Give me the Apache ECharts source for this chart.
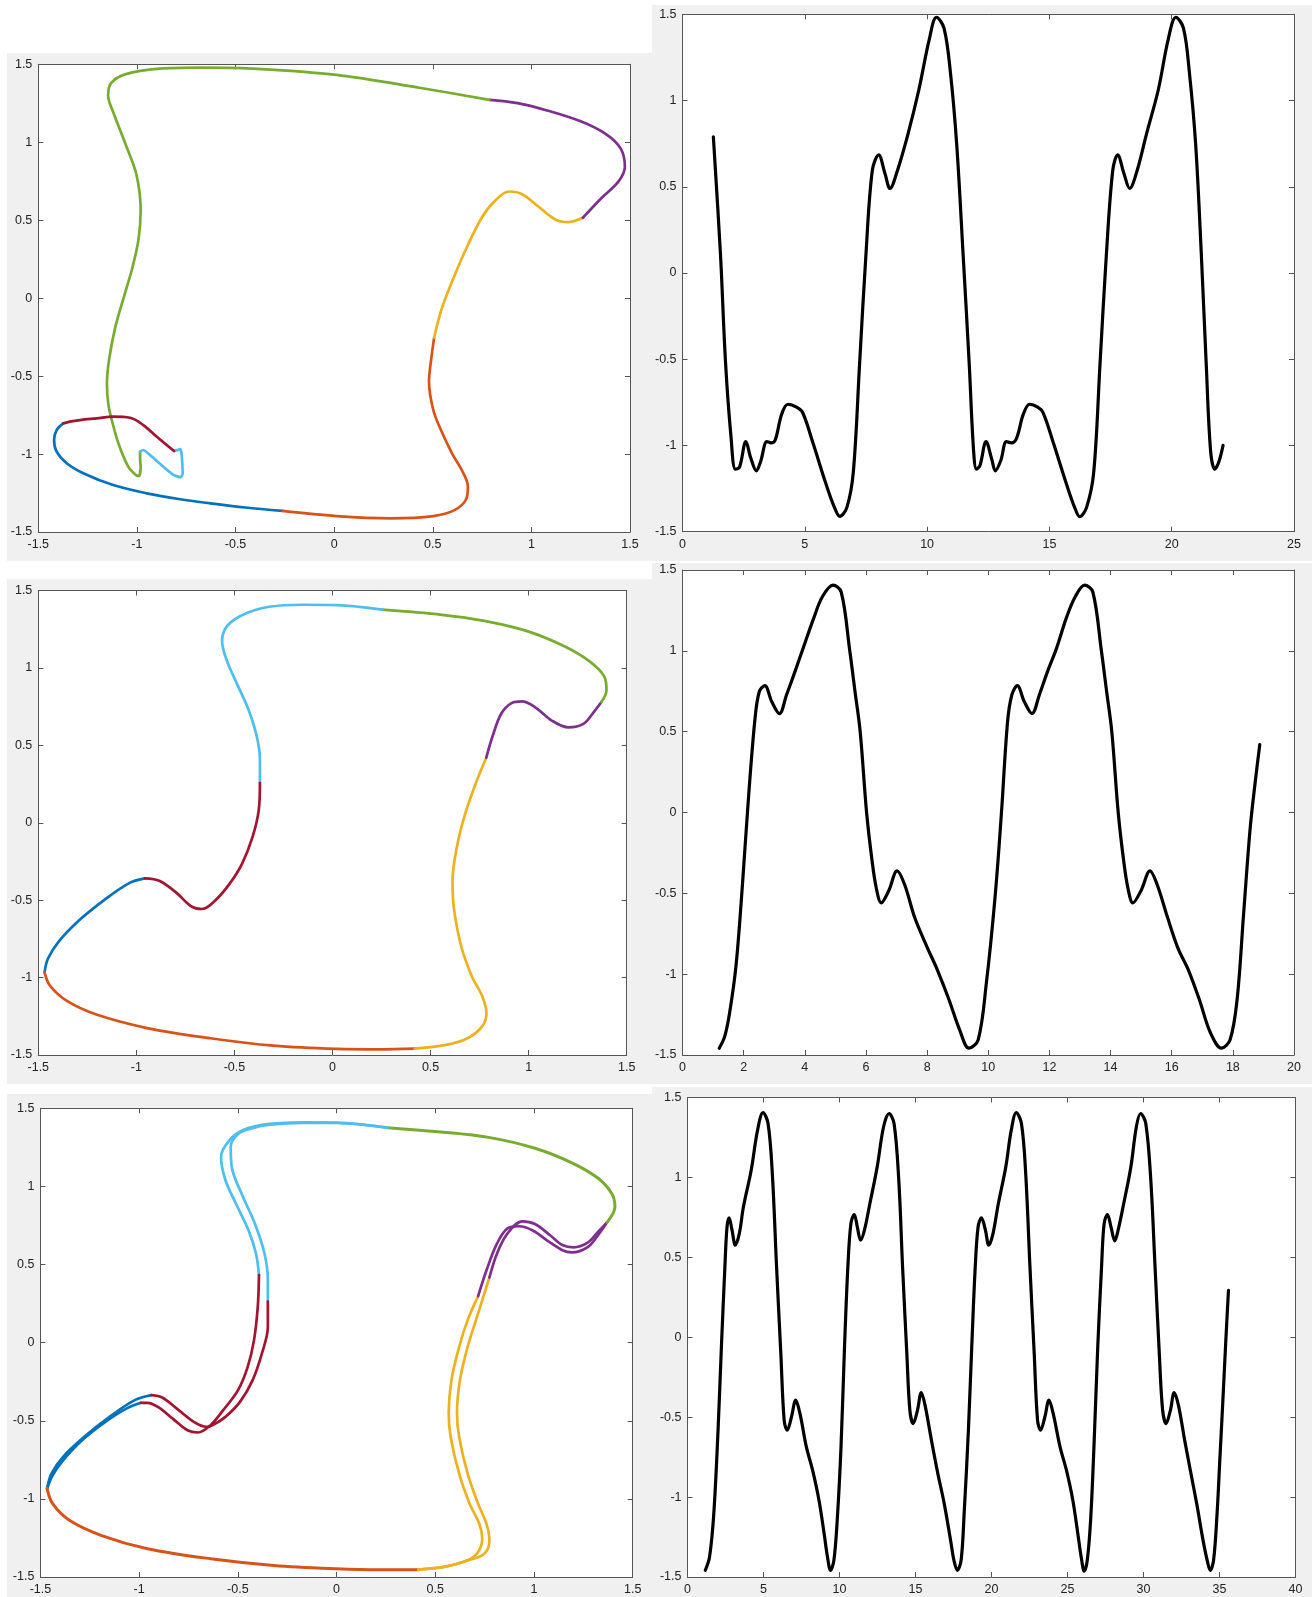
<!DOCTYPE html>
<html><head><meta charset="utf-8">
<script src="https://cdn.jsdelivr.net/npm/echarts@6/dist/echarts.min.js"></script>
<style>
html,body{margin:0;padding:0;background:#fff;}
#wrap{position:relative;width:1314px;height:1597px;overflow:hidden;}
.bg{position:absolute;background:#f0f0f0;}
#chartL{position:absolute;left:0;top:0;width:652px;height:1597px;}
#chartR{position:absolute;left:652px;top:0;width:662px;height:1597px;}
</style></head><body>
<div id="wrap">
<div class="bg" style="left:7px;top:53px;width:645px;height:508px"></div>
<div class="bg" style="left:652px;top:5px;width:660px;height:556px"></div>
<div class="bg" style="left:7px;top:579px;width:645px;height:505px"></div>
<div class="bg" style="left:652px;top:563px;width:660px;height:521px"></div>
<div class="bg" style="left:7px;top:1094px;width:645px;height:503px"></div>
<div class="bg" style="left:652px;top:1087px;width:660px;height:510px"></div>
<div id="chartL"></div>
<div id="chartR"></div>
</div>
<script>
// ---------- Panel 1 (phase plot, top-left) ----------
const p1Blue = [[-1.373,-0.803],[-1.407,-0.846],[-1.420,-0.910],[-1.407,-0.985],[-1.356,-1.059],[-1.272,-1.123],[-1.120,-1.199],[-0.950,-1.252],[-0.781,-1.290],[-0.629,-1.316],[-0.45,-1.343],[-0.262,-1.365]];
const p1Orange = [[-0.262,-1.365],[0.012,-1.398],[0.289,-1.412],[0.503,-1.398],[0.610,-1.360],[0.669,-1.290],[0.678,-1.209],[0.652,-1.115],[0.599,-0.999],[0.546,-0.859],[0.503,-0.719],[0.481,-0.533],[0.492,-0.393],[0.507,-0.253]];
const p1Yellow = [[0.507,-0.253],[0.546,-0.066],[0.610,0.144],[0.674,0.330],[0.749,0.517],[0.813,0.621],[0.887,0.684],[0.951,0.668],[1.037,0.586],[1.122,0.504],[1.186,0.488],[1.261,0.516]];
const p1Purple = [[1.261,0.516],[1.357,0.644],[1.442,0.749],[1.474,0.843],[1.453,0.959],[1.378,1.052],[1.250,1.134],[1.079,1.204],[0.930,1.251],[0.787,1.272]];
const p1Green = [[0.787,1.272],[0.439,1.348],[0.012,1.432],[-0.415,1.472],[-0.672,1.479],[-0.885,1.472],[-1.056,1.437],[-1.131,1.379],[-1.146,1.297],[-1.120,1.192],[-1.056,0.982],[-1.003,0.796],[-0.981,0.563],[-0.992,0.376],[-1.024,0.190],[-1.067,0.004],[-1.109,-0.183],[-1.141,-0.393],[-1.152,-0.55],[-1.145,-0.68],[-1.128,-0.78],[-1.094,-0.931],[-1.044,-1.081],[-1.005,-1.135],[-0.990,-1.141],[-0.981,-1.081],[-0.984,-1.028],[-0.984,-0.985]];
const p1LightBlue = [[-0.984,-0.985],[-0.968,-0.974],[-0.934,-1.006],[-0.866,-1.081],[-0.815,-1.134],[-0.778,-1.149],[-0.768,-1.124],[-0.771,-1.038],[-0.775,-0.985],[-0.781,-0.968],[-0.795,-0.975],[-0.812,-0.980]];
const p1DarkRed = [[-0.812,-0.980],[-0.849,-0.942],[-0.899,-0.889],[-0.968,-0.814],[-1.035,-0.767],[-1.120,-0.760],[-1.204,-0.771],[-1.289,-0.782],[-1.340,-0.792],[-1.373,-0.803]];

// ---------- Panel 2 (time series, top-right) ----------
const t2 = [1.26,1.55,1.76,1.98,2.16,2.33,2.59,2.79,3.02,3.19,3.45,3.62,3.79,4.05,4.31,4.66,4.91,5.34,5.86,6.21,6.43,6.72,6.98,7.24,7.50,7.76,8.02,8.28,8.48,8.79,9.22,9.66,10.09,10.38,10.69,10.95,11.21,11.47,11.72,11.90,12.02,12.16,12.41,12.64,12.79,13.02,13.24,13.45,13.66,13.93,14.19,14.52,14.74,15.17,15.69,16.03,16.24,16.52,16.81,17.07,17.33,17.59,17.79,18.05,18.28,18.59,18.97,19.45,19.86,20.17,20.48,20.72,20.98,21.21,21.41,21.59,21.76,21.93,22.10];
const y2 = [0.790,0.110,-0.524,-0.947,-1.137,-1.126,-0.978,-1.073,-1.147,-1.094,-0.978,-0.985,-0.968,-0.820,-0.761,-0.778,-0.809,-0.989,-1.221,-1.359,-1.411,-1.359,-1.158,-0.524,0.110,0.596,0.685,0.575,0.490,0.596,0.807,1.061,1.356,1.483,1.420,1.166,0.744,0.110,-0.524,-1.031,-1.137,-1.116,-0.978,-1.078,-1.147,-1.084,-0.978,-0.985,-0.957,-0.820,-0.761,-0.778,-0.809,-0.989,-1.221,-1.359,-1.413,-1.359,-1.158,-0.524,0.110,0.596,0.685,0.575,0.490,0.596,0.807,1.061,1.356,1.483,1.420,1.166,0.744,0.110,-0.524,-1.031,-1.137,-1.094,-0.999];

// ---------- Panel 3 (phase plot, middle-left) ----------
const p3Blue = [[-0.956,-0.359],[-1.032,-0.387],[-1.161,-0.496],[-1.289,-0.627],[-1.397,-0.769],[-1.451,-0.878],[-1.468,-0.966]];
const p3Orange = [[-1.468,-0.966],[-1.440,-1.053],[-1.354,-1.151],[-1.204,-1.239],[-0.946,-1.326],[-0.623,-1.392],[-0.301,-1.440],[0.021,-1.461],[0.236,-1.464],[0.419,-1.459]];
const p3Yellow = [[0.419,-1.459],[0.580,-1.435],[0.688,-1.392],[0.763,-1.315],[0.785,-1.228],[0.763,-1.119],[0.709,-0.988],[0.655,-0.791],[0.619,-0.551],[0.612,-0.376],[0.634,-0.158],[0.677,0.060],[0.731,0.256],[0.784,0.420]];
const p3Purple = [[0.784,0.420],[0.817,0.562],[0.860,0.704],[0.913,0.773],[0.967,0.784],[1.032,0.747],[1.118,0.660],[1.204,0.616],[1.279,0.638],[1.332,0.715],[1.371,0.780]];
const p3Green = [[1.371,0.780],[1.397,0.856],[1.386,0.944],[1.311,1.042],[1.182,1.140],[0.989,1.239],[0.774,1.304],[0.559,1.343],[0.254,1.376]];
const p3LightBlue = [[0.254,1.376],[0.021,1.406],[-0.150,1.408],[-0.322,1.395],[-0.451,1.347],[-0.537,1.271],[-0.563,1.173],[-0.537,1.042],[-0.484,0.889],[-0.430,0.736],[-0.387,0.562],[-0.370,0.409],[-0.370,0.256]];
const p3DarkRed = [[-0.370,0.256],[-0.376,0.082],[-0.408,-0.093],[-0.462,-0.267],[-0.527,-0.398],[-0.602,-0.507],[-0.666,-0.557],[-0.720,-0.540],[-0.795,-0.453],[-0.881,-0.376],[-0.956,-0.359]];

// ---------- Panel 4 (time series, middle-right) ----------
const t4 = [1.20,1.38,1.54,1.75,1.96,2.16,2.37,2.51,2.69,2.92,3.17,3.40,3.68,3.95,4.30,4.57,4.92,5.19,5.47,5.64,5.81,6.02,6.20,6.34,6.50,6.74,7.02,7.26,7.60,8.02,8.32,8.71,9.06,9.37,9.67,9.94,10.22,10.43,10.63,10.77,10.95,11.18,11.43,11.67,11.94,12.22,12.56,12.84,13.15,13.42,13.70,13.87,14.04,14.25,14.43,14.57,14.73,15.00,15.29,15.52,15.87,16.21,16.53,16.90,17.27,17.63,17.91,18.14,18.35,18.56,18.72,18.88];
const y4 = [-1.458,-1.385,-1.239,-0.946,-0.444,0.099,0.580,0.747,0.785,0.685,0.612,0.727,0.873,1.019,1.207,1.333,1.406,1.364,1.000,0.750,0.500,0.000,-0.300,-0.470,-0.559,-0.486,-0.361,-0.444,-0.653,-0.842,-0.967,-1.155,-1.343,-1.458,-1.406,-1.051,-0.528,-0.005,0.559,0.727,0.785,0.685,0.612,0.727,0.873,1.009,1.207,1.333,1.406,1.364,1.000,0.750,0.500,0.000,-0.300,-0.470,-0.559,-0.482,-0.361,-0.444,-0.653,-0.842,-0.967,-1.155,-1.364,-1.458,-1.406,-1.155,-0.632,-0.110,0.170,0.420];

// ---------- Panel 5 (phase plot, two loops, bottom-left) ----------
const p5Blue1 = [[-0.990,-0.385],[-1.065,-0.422],[-1.171,-0.507],[-1.289,-0.625],[-1.385,-0.753],[-1.438,-0.849],[-1.466,-0.934]];
const p5Blue2 = [[-0.937,-0.336],[-1.022,-0.368],[-1.150,-0.475],[-1.278,-0.603],[-1.385,-0.731],[-1.444,-0.838],[-1.466,-0.934]];
const p5Orange = [[-1.466,-0.934],[-1.438,-1.031],[-1.353,-1.137],[-1.193,-1.233],[-0.958,-1.319],[-0.638,-1.383],[-0.318,-1.426],[0.002,-1.447],[0.215,-1.453],[0.414,-1.453]];
const p5Yellow1 = [[0.414,-1.453],[0.557,-1.432],[0.664,-1.393],[0.717,-1.340],[0.738,-1.255],[0.723,-1.159],[0.674,-1.031],[0.621,-0.839],[0.578,-0.604],[0.568,-0.454],[0.582,-0.240],[0.621,-0.027],[0.664,0.144],[0.717,0.298]];
const p5Yellow2 = [[0.414,-1.453],[0.557,-1.432],[0.664,-1.393],[0.749,-1.351],[0.774,-1.265],[0.759,-1.159],[0.717,-1.031],[0.664,-0.839],[0.621,-0.604],[0.610,-0.454],[0.625,-0.240],[0.664,-0.027],[0.717,0.187],[0.774,0.417]];
const p5Purple1 = [[0.717,0.298],[0.760,0.465],[0.813,0.635],[0.866,0.731],[0.925,0.745],[0.994,0.718],[1.069,0.652],[1.144,0.592],[1.192,0.578],[1.272,0.612],[1.325,0.689],[1.370,0.770]];
const p5Purple2 = [[0.774,0.417],[0.813,0.571],[0.866,0.699],[0.941,0.776],[1.005,0.759],[1.080,0.689],[1.144,0.625],[1.200,0.610],[1.272,0.640],[1.325,0.710],[1.370,0.770]];
const p5Green = [[1.370,0.770],[1.410,0.870],[1.393,0.956],[1.325,1.052],[1.197,1.148],[1.005,1.244],[0.770,1.314],[0.514,1.350],[0.258,1.376]];
const p5LightBlue1 = [[0.258,1.376],[0.002,1.408],[-0.169,1.410],[-0.339,1.400],[-0.467,1.365],[-0.542,1.297],[-0.585,1.190],[-0.563,1.041],[-0.510,0.891],[-0.446,0.720],[-0.408,0.571],[-0.393,0.432]];
const p5LightBlue2 = [[0.258,1.376],[0.002,1.406],[-0.169,1.407],[-0.339,1.395],[-0.440,1.368],[-0.499,1.335],[-0.536,1.255],[-0.531,1.126],[-0.478,0.945],[-0.414,0.763],[-0.365,0.571],[-0.348,0.400],[-0.348,0.262]];
const p5DarkRed1 = [[-0.393,0.432],[-0.399,0.230],[-0.418,0.016],[-0.450,-0.155],[-0.499,-0.304],[-0.574,-0.432],[-0.638,-0.528],[-0.702,-0.575],[-0.755,-0.561],[-0.830,-0.486],[-0.905,-0.411],[-0.958,-0.385],[-0.990,-0.385]];
const p5DarkRed2 = [[-0.348,0.262],[-0.348,0.101],[-0.378,-0.069],[-0.425,-0.240],[-0.489,-0.379],[-0.563,-0.475],[-0.627,-0.528],[-0.659,-0.539],[-0.723,-0.507],[-0.809,-0.422],[-0.883,-0.351],[-0.937,-0.336]];

// ---------- Panel 6 (time series, bottom-right) ----------
const t6 = [1.17,1.45,1.73,2.01,2.23,2.46,2.60,2.74,2.93,3.15,3.41,3.68,4.19,4.61,4.97,5.30,5.58,5.86,6.14,6.36,6.56,6.84,7.12,7.40,7.82,8.23,8.65,8.99,9.21,9.41,9.63,9.85,10.10,10.33,10.55,10.75,10.97,11.17,11.39,11.64,12.00,12.48,12.90,13.26,13.59,13.90,14.15,14.43,14.63,14.85,15.13,15.38,15.63,16.05,16.47,16.89,17.31,17.53,17.75,18.00,18.20,18.48,18.70,18.93,19.12,19.34,19.60,19.82,20.10,20.43,20.94,21.30,21.63,21.97,22.25,22.53,22.81,23.03,23.23,23.51,23.78,24.06,24.51,24.93,25.35,25.68,25.90,26.10,26.30,26.52,26.74,26.99,27.24,27.41,27.63,27.86,28.11,28.33,28.70,29.17,29.53,29.81,30.15,30.48,30.76,31.04,31.26,31.49,31.77,32.02,32.30,32.71,33.08,33.50,33.92,34.19,34.39,34.61,34.84,35.03,35.22,35.40,35.59];
const y6 = [-1.458,-1.375,-1.104,-0.582,-0.061,0.440,0.691,0.747,0.670,0.576,0.649,0.816,1.045,1.296,1.406,1.337,1.024,0.440,-0.102,-0.520,-0.582,-0.499,-0.394,-0.478,-0.686,-0.832,-1.020,-1.229,-1.375,-1.458,-1.396,-1.145,-0.686,-0.061,0.440,0.711,0.768,0.691,0.607,0.670,0.837,1.066,1.317,1.400,1.337,0.983,0.440,-0.102,-0.457,-0.540,-0.457,-0.346,-0.426,-0.645,-0.853,-1.041,-1.271,-1.396,-1.458,-1.396,-1.104,-0.582,-0.061,0.440,0.691,0.747,0.670,0.576,0.649,0.826,1.066,1.296,1.406,1.337,1.024,0.440,-0.102,-0.520,-0.582,-0.499,-0.394,-0.478,-0.686,-0.832,-1.020,-1.229,-1.375,-1.463,-1.396,-1.145,-0.686,-0.061,0.440,0.711,0.768,0.691,0.603,0.670,0.837,1.066,1.317,1.400,1.337,0.983,0.440,-0.102,-0.457,-0.540,-0.457,-0.346,-0.426,-0.645,-0.832,-1.041,-1.271,-1.396,-1.458,-1.396,-1.104,-0.750,-0.400,-0.050,0.294];

// ---------- Tick settings ----------
const phaseTicks = {min:-1.5, max:1.5, interval:0.5};
const yTicks = {min:-1.5, max:1.5, interval:0.5};
const xTicks2 = {min:0, max:25, interval:5};
const xTicks4 = {min:0, max:20, interval:2};
const xTicks6 = {min:0, max:40, interval:5};

const C = {blue:'#0072BD', orange:'#D95319', yellow:'#EDB120', purple:'#7E2F8E', green:'#77AC30', lightblue:'#4DBEEE', darkred:'#A2142F'};
const FRAME = '#555555';
const TXT = '#222222';
const FONT = '"Liberation Sans", Arial, Helvetica, sans-serif';
const RX = 652; // left edge of the right column container

function gridOf(g) { return Object.assign({show:true, backgroundColor:'#ffffff', borderWidth:0, containLabel:false}, g); }
const gridsL = [
  {left:38.3, top:64.3, width:591.7, height:467.7},
  {left:38.3, top:590.5, width:588.4, height:464.5},
  {left:40.4, top:1108.3, width:592.3, height:468.7}
].map(gridOf);
const gridsR = [
  {left:680.5-RX, top:14.3, width:613.5, height:517.4},
  {left:679.3-RX, top:570, width:614.7, height:485},
  {left:687.5-RX, top:1097.5, width:608, height:479.5}
].map(gridOf);

function axisBase(gi, r, pos, labels) {
  return {
    type:'value', gridIndex:gi, min:r.min, max:r.max, interval:r.interval, position:pos,
    axisLine:{show:true, onZero:false, lineStyle:{color:FRAME, width:1}},
    axisTick:{show:true, inside:true, length:5, lineStyle:{color:FRAME, width:1}},
    axisLabel:{show:labels, color:TXT, fontSize:12.5, fontFamily:FONT, margin:6, hideOverlap:false, showMinLabel:true, showMaxLabel:true},
    splitLine:{show:false}
  };
}
function buildAxes(xRanges) {
  const xAxis = [], yAxis = [];
  xRanges.forEach((r, i) => {
    xAxis.push(axisBase(i, r, 'bottom', true));
    xAxis.push(axisBase(i, r, 'top', false));
    yAxis.push(axisBase(i, yTicks, 'left', true));
    yAxis.push(axisBase(i, yTicks, 'right', false));
  });
  return {xAxis, yAxis};
}

function line(gi, data, color, width, smooth) {
  return {type:'line', xAxisIndex:gi*2, yAxisIndex:gi*2, data:data, showSymbol:false, symbol:'none',
    smooth:smooth, lineStyle:{color:color, width:width, cap:'round', join:'round'}, silent:true, animation:false};
}
const PW = 2.7, SM = 0.35, TW = 3.2, TS = 0.35;
const seriesL = [
  line(0, p1Blue, C.blue, PW, SM),
  line(0, p1Orange, C.orange, PW, SM),
  line(0, p1Yellow, C.yellow, PW, SM),
  line(0, p1Purple, C.purple, PW, SM),
  line(0, p1Green, C.green, PW, 0.3),
  line(0, p1LightBlue, C.lightblue, PW, 0.2),
  line(0, p1DarkRed, C.darkred, PW, SM),

  line(1, p3Blue, C.blue, PW, SM),
  line(1, p3Orange, C.orange, PW, SM),
  line(1, p3Yellow, C.yellow, PW, SM),
  line(1, p3Purple, C.purple, PW, SM),
  line(1, p3Green, C.green, PW, SM),
  line(1, p3LightBlue, C.lightblue, PW, SM),
  line(1, p3DarkRed, C.darkred, PW, SM),

  line(2, p5Blue1, C.blue, PW, SM),
  line(2, p5Blue2, C.blue, PW, SM),
  line(2, p5Orange, C.orange, 3, SM),
  line(2, p5Yellow1, C.yellow, PW, SM),
  line(2, p5Yellow2, C.yellow, PW, SM),
  line(2, p5Purple1, C.purple, PW, SM),
  line(2, p5Purple2, C.purple, PW, SM),
  line(2, p5Green, C.green, 3, SM),
  line(2, p5LightBlue1, C.lightblue, PW, SM),
  line(2, p5LightBlue2, C.lightblue, PW, SM),
  line(2, p5DarkRed1, C.darkred, PW, SM),
  line(2, p5DarkRed2, C.darkred, PW, SM)
];
const seriesR = [
  line(0, t2.map((t,i)=>[t, y2[i]]), '#000000', TW, TS),
  line(1, t4.map((t,i)=>[t, y4[i]]), '#000000', TW, TS),
  line(2, t6.map((t,i)=>[t, y6[i]]), '#000000', TW, TS)
];

const axesL = buildAxes([phaseTicks, phaseTicks, phaseTicks]);
const axesR = buildAxes([xTicks2, xTicks4, xTicks6]);

const chartL = echarts.init(document.getElementById('chartL'), null, {renderer:'canvas', width:652, height:1597});
chartL.setOption({backgroundColor:'transparent', animation:false, grid:gridsL, xAxis:axesL.xAxis, yAxis:axesL.yAxis, series:seriesL});
const chartR = echarts.init(document.getElementById('chartR'), null, {renderer:'canvas', width:662, height:1597});
chartR.setOption({backgroundColor:'transparent', animation:false, grid:gridsR, xAxis:axesR.xAxis, yAxis:axesR.yAxis, series:seriesR});
</script>
</body></html>
